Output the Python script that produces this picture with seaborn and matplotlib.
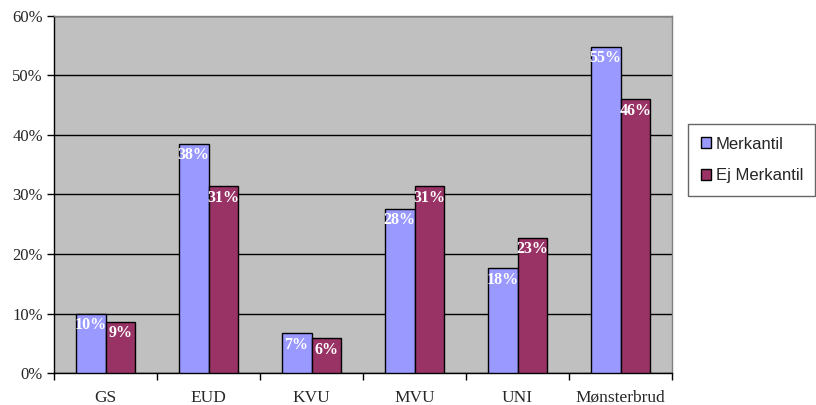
import seaborn as sns
import pandas as pd
import matplotlib.pyplot as plt
from matplotlib.ticker import PercentFormatter, FixedLocator

categories = ["GS", "EUD", "KVU", "MVU", "UNI", "Mønsterbrud"]
merkantil = [10, 38.5, 6.7, 27.6, 17.6, 54.8]
ej_merkantil = [8.6, 31.4, 5.8, 31.4, 22.7, 46]
merkantil_labels = ["10%", "38%", "7%", "28%", "18%", "55%"]
ej_labels = ["9%", "31%", "6%", "31%", "23%", "46%"]
series = ["Merkantil", "Ej Merkantil"]

merk_color = "#9999ff"
ej_color = "#993366"

df = pd.DataFrame({
    "kategori": categories * 2,
    "andel": merkantil + ej_merkantil,
    "gruppe": [series[0]] * 6 + [series[1]] * 6,
})

sns.set_style("white")
plt.rcParams["font.family"] = ["Liberation Serif", "DejaVu Serif"]

fig = plt.figure(figsize=(8.16, 4.05), dpi=100)
ax = fig.add_axes([54 / 816, 1 - 373 / 405, 618 / 816, 357 / 405])
ax.set_facecolor("#c0c0c0")

sns.barplot(data=df, x="kategori", y="andel", hue="gruppe",
            palette=[merk_color, ej_color], saturation=1, width=0.58,
            edgecolor="black", linewidth=1, ax=ax, zorder=3, legend=True)

ax.set_ylim(0, 60)
ax.set_xlim(-0.5, 5.5)
ax.yaxis.set_major_locator(FixedLocator(range(0, 61, 10)))
ax.yaxis.set_major_formatter(PercentFormatter(decimals=0))
ax.grid(axis="y", color="black", linewidth=1, zorder=1)
ax.set_axisbelow(True)
ax.set_xlabel("")
ax.set_ylabel("")

ax.xaxis.set_minor_locator(FixedLocator([i - 0.5 for i in range(7)]))
ax.tick_params(axis="x", which="major", length=0, labelsize=12.5, pad=12)
ax.tick_params(axis="x", which="minor", length=5, width=1, color="black", direction="out", bottom=True)
ax.tick_params(axis="y", length=5, width=1, color="black", direction="out", labelsize=12, pad=3, left=True)

for side in ["top", "right"]:
    ax.spines[side].set_color("#808080")
    ax.spines[side].set_linewidth(1)
for side in ["left", "bottom"]:
    ax.spines[side].set_color("black")
    ax.spines[side].set_linewidth(1)

for cont, labs in zip(ax.containers, [merkantil_labels, ej_labels]):
    ax.bar_label(cont, labels=labs, padding=-14, color="white",
                 fontweight="bold", fontsize=11.5, zorder=4)

handles, _ = ax.get_legend_handles_labels()
ax.get_legend().remove()
leg = fig.legend(handles, series, loc="upper left", bbox_to_anchor=(688 / 816, 1 - 124 / 405),
                 frameon=True, fancybox=False, edgecolor="#404040",
                 prop={"family": "Liberation Sans", "size": 12},
                 handlelength=0.6, handleheight=0.6, handletextpad=0.3,
                 labelspacing=1.0, borderpad=0.75, borderaxespad=0)
leg.get_frame().set_linewidth(1)

fig.savefig("out.png", dpi=100)
